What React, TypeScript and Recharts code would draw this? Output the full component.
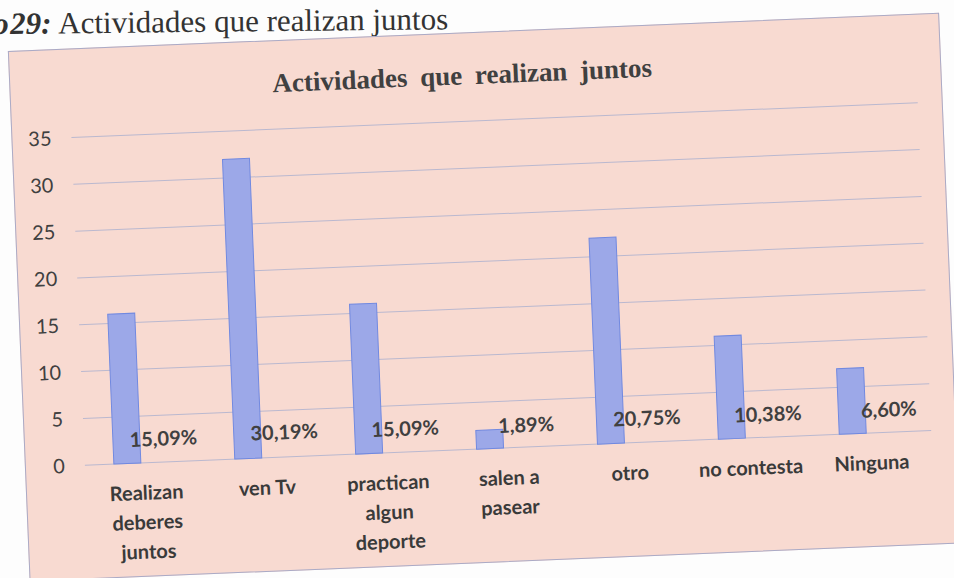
import React from 'react';
import { BarChart, Bar, XAxis, YAxis, CartesianGrid, LabelList } from 'recharts';

const CATEGORIES = ['Realizan deberes juntos', 'ven Tv', 'practican algun deporte', 'salen a pasear', 'otro', 'no contesta', 'Ninguna'];
const CATEGORY_LINES = [['Realizan', 'deberes', 'juntos'], ['ven Tv'], ['practican', 'algun', 'deporte'], ['salen a', 'pasear'], ['otro'], ['no contesta'], ['Ninguna']];
const COUNTS = [16, 32, 16, 2, 22, 11, 7];
const PERCENTS = [0.1509, 0.3019, 0.1509, 0.0189, 0.2075, 0.1038, 0.066];
const PERCENT_LABELS = ['15,09%', '30,19%', '15,09%', '1,89%', '20,75%', '10,38%', '6,60%'];
const Y_TICKS = [0, 5, 10, 15, 20, 25, 30, 35];

const data = CATEGORIES.map((name, i) => ({
    name,
    count: COUNTS[i],
    pct: PERCENTS[i],
    label: PERCENT_LABELS[i],
}));

const SANS = 'Lato, "Open Sans", sans-serif';

// multi-line category labels, like the excel wrap
const CategoryTick = (props: any) => {
    const { x, y, payload } = props;
    const idx = CATEGORIES.indexOf(payload.value);
    const lines = CATEGORY_LINES[idx] ?? [payload.value];
    return (
        <text x={x} y={y + 37} textAnchor="middle" fill="#3a3a3a" fontSize={20} fontWeight={700} fontFamily={SANS}>
            {lines.map((l, i) => (
                <tspan key={i} x={x} dy={i === 0 ? 0 : 29.5}>{l}</tspan>
            ))}
        </text>
    );
};

export default function App() {
    return (
        <div style={{ position: 'absolute', left: 0, top: 0, width: 954, height: 578, overflow: 'hidden', background: '#fdfdfd' }}>
            {/* caption above the figure (scanned page, slightly tilted) */}
            <div style={{ position: 'absolute', left: 0, top: 0, width: 954, height: 44, transform: 'rotate(-0.6deg)', transformOrigin: '0 0', fontFamily: '"Liberation Serif", serif', color: '#333', fontSize: 31, lineHeight: '30px', whiteSpace: 'nowrap' }}>
                <span style={{ position: 'absolute', left: -7, top: 9, fontStyle: 'italic', fontWeight: 700 }}>o</span>
                <span style={{ position: 'absolute', left: 10, top: 9, fontStyle: 'italic', fontWeight: 700 }}>29:</span>
                <span style={{ position: 'absolute', left: 58, top: 9 }}>Actividades que realizan juntos</span>
            </div>

            <div style={{ position: 'absolute', left: 0, top: 0, width: 954, height: 578, transform: 'rotate(-2.35deg)', transformOrigin: '477px 289px' }}>
                <div style={{ position: 'absolute', left: 18, top: 32, width: 932, height: 531, background: '#f8dad1', border: '1px solid #aaaac6', boxSizing: 'border-box' }} />
                <div style={{ position: 'absolute', left: 0, top: 59, width: 942, textAlign: 'center', lineHeight: '32px', fontFamily: '"Liberation Serif", serif', fontWeight: 700, fontSize: 27, wordSpacing: 6, color: '#404040' }}>
                    Actividades que realizan juntos
                </div>
                <div style={{ position: 'absolute', left: 0, top: 0 }}>
                    <BarChart width={954} height={578} data={data} margin={{ top: 121, right: 29, left: 18, bottom: 29 }} barSize={27} barGap={10}>
                        <CartesianGrid vertical={false} stroke="#bab8cf" />
                        <XAxis dataKey="name" height={100} axisLine={false} tickLine={false} tickSize={0} tickMargin={0} interval={0} tick={<CategoryTick />} />
                        <YAxis type="number" domain={[0, 35]} ticks={Y_TICKS} width={60} axisLine={false} tickLine={false} tickSize={0} tickMargin={20}
                            tick={{ fill: '#404040', fontSize: 20, fontFamily: SANS }} />
                        <Bar dataKey="count" fill="#9ca8e8" stroke="#7189e0" strokeWidth={1} isAnimationActive={false} />
                        <Bar dataKey="pct" fill="transparent" isAnimationActive={false}>
                            <LabelList dataKey="label" position="top" offset={15} fill="#404040" fontSize={20} fontWeight={700} fontFamily={SANS} />
                        </Bar>
                    </BarChart>
                </div>
            </div>
        </div>
    );
}
